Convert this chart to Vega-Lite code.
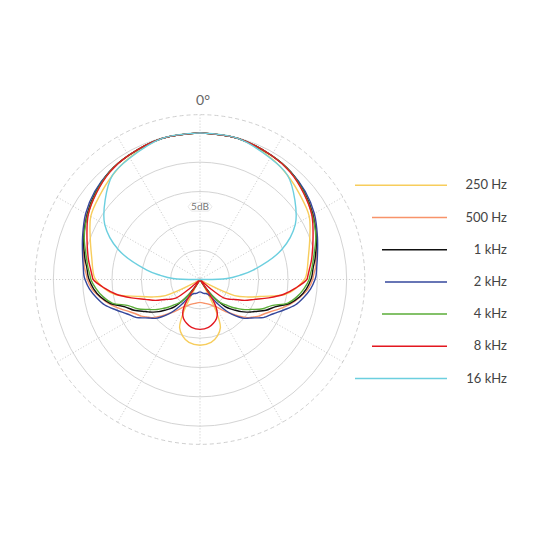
{
  "$schema": "https://vega.github.io/schema/vega-lite/v6.json",
  "width": 540,
  "height": 540,
  "autosize": "none",
  "padding": 0,
  "background": "white",
  "config": {"view": {"stroke": null}, "font": "Lato"},
  "datasets": {
    "rings": [{"db": -20}, {"db": -15}, {"db": -10}, {"db": -5}, {"db": 0}],
    "outer": [{"db": 3.1}],
    "spokes": [
      {"a": 0, "db": 3.1}, {"a": 30, "db": 3.1}, {"a": 60, "db": 3.1}, {"a": 90, "db": 3.1},
      {"a": 120, "db": 3.1}, {"a": 150, "db": 3.1}, {"a": 180, "db": 3.1}, {"a": 210, "db": 3.1},
      {"a": 240, "db": 3.1}, {"a": 270, "db": 3.1}, {"a": 300, "db": 3.1}, {"a": 330, "db": 3.1}
    ],
    "angle": [{"text": "0°", "a": 0, "db": 5.4}],
    "step": [{"text": "5dB", "a": 0, "db": -12.6}],
    "pattern": [
      {"a": 0, "250 Hz": 0, "500 Hz": 0, "1 kHz": 0, "2 kHz": 0, "4 kHz": 0, "8 kHz": 0, "16 kHz": 0},
      {"a": 15, "250 Hz": -0.1, "500 Hz": -0.1, "1 kHz": -0.1, "2 kHz": -0.1, "4 kHz": -0.1, "8 kHz": -0.1, "16 kHz": -0.1},
      {"a": 30, "250 Hz": -1.0, "500 Hz": -0.6, "1 kHz": -0.6, "2 kHz": -0.6, "4 kHz": -0.6, "8 kHz": -0.6, "16 kHz": -1.1},
      {"a": 40, "250 Hz": -1.8, "500 Hz": -1.0, "1 kHz": -1.0, "2 kHz": -1.0, "4 kHz": -1.05, "8 kHz": -1.1, "16 kHz": -1.8},
      {"a": 50, "250 Hz": -2.7, "500 Hz": -1.8, "1 kHz": -1.8, "2 kHz": -1.6, "4 kHz": -1.9, "8 kHz": -2.0, "16 kHz": -3.9},
      {"a": 60, "250 Hz": -3.5, "500 Hz": -2.7, "1 kHz": -2.8, "2 kHz": -2.5, "4 kHz": -2.9, "8 kHz": -3.0, "16 kHz": -6.25},
      {"a": 70, "250 Hz": -5.1, "500 Hz": -3.8, "1 kHz": -3.9, "2 kHz": -3.7, "4 kHz": -4.0, "8 kHz": -4.5, "16 kHz": -10.2},
      {"a": 80, "250 Hz": -6.3, "500 Hz": -4.9, "1 kHz": -5.1, "2 kHz": -4.7, "4 kHz": -5.4, "8 kHz": -5.7, "16 kHz": -15.8},
      {"a": 84, "250 Hz": -6.6, "500 Hz": -5.2, "1 kHz": -5.6, "2 kHz": -5.0, "4 kHz": -5.8, "8 kHz": -6.2, "16 kHz": -18.2},
      {"a": 88, "250 Hz": -6.9, "500 Hz": -5.65, "1 kHz": -5.9, "2 kHz": -5.2, "4 kHz": -6.25, "8 kHz": -6.6, "16 kHz": -20.4},
      {"a": 90, "250 Hz": -7.2, "500 Hz": -5.8, "1 kHz": -6.1, "2 kHz": -5.4, "4 kHz": -6.4, "8 kHz": -6.8, "16 kHz": -25},
      {"a": 95, "250 Hz": -8.5, "500 Hz": -6.5, "1 kHz": -6.8, "2 kHz": -6.1, "4 kHz": -7.2, "8 kHz": -8.6, "16 kHz": -25},
      {"a": 100, "250 Hz": -10.3, "500 Hz": -7.7, "1 kHz": -7.8, "2 kHz": -7.1, "4 kHz": -8.2, "8 kHz": -10.5, "16 kHz": -25},
      {"a": 105, "250 Hz": -13.9, "500 Hz": -9.0, "1 kHz": -9.2, "2 kHz": -8.2, "4 kHz": -9.5, "8 kHz": -12.9, "16 kHz": -25},
      {"a": 110, "250 Hz": -16.3, "500 Hz": -10.5, "1 kHz": -11.4, "2 kHz": -9.8, "4 kHz": -12.0, "8 kHz": -15.1, "16 kHz": -25},
      {"a": 115, "250 Hz": -18.5, "500 Hz": -11.9, "1 kHz": -12.6, "2 kHz": -11.2, "4 kHz": -13.2, "8 kHz": -16.6, "16 kHz": -25},
      {"a": 120, "250 Hz": -23.3, "500 Hz": -12.9, "1 kHz": -14.1, "2 kHz": -12.2, "4 kHz": -14.8, "8 kHz": -18.2, "16 kHz": -25},
      {"a": 122, "250 Hz": -25, "500 Hz": -13.2, "1 kHz": -14.6, "2 kHz": -12.7, "4 kHz": -15.3, "8 kHz": -18.6, "16 kHz": -25},
      {"a": 125, "250 Hz": -25, "500 Hz": -13.9, "1 kHz": -15.3, "2 kHz": -13.6, "4 kHz": -16.1, "8 kHz": -19.2, "16 kHz": -25},
      {"a": 128, "250 Hz": -25, "500 Hz": -14.4, "1 kHz": -16.1, "2 kHz": -14.3, "4 kHz": -17.0, "8 kHz": -19.9, "16 kHz": -25},
      {"a": 131, "250 Hz": -25, "500 Hz": -15.3, "1 kHz": -17.0, "2 kHz": -14.9, "4 kHz": -17.8, "8 kHz": -22.4, "16 kHz": -25},
      {"a": 134, "250 Hz": -25, "500 Hz": -16.1, "1 kHz": -17.8, "2 kHz": -15.8, "4 kHz": -18.7, "8 kHz": -25, "16 kHz": -25},
      {"a": 137, "250 Hz": -25, "500 Hz": -17.0, "1 kHz": -18.7, "2 kHz": -16.8, "4 kHz": -19.4, "8 kHz": -25, "16 kHz": -25},
      {"a": 140, "250 Hz": -25, "500 Hz": -17.7, "1 kHz": -20.1, "2 kHz": -18.0, "4 kHz": -20.2, "8 kHz": -25, "16 kHz": -25},
      {"a": 143, "250 Hz": -25, "500 Hz": -18.4, "1 kHz": -21.6, "2 kHz": -19.4, "4 kHz": -21.4, "8 kHz": -25, "16 kHz": -25},
      {"a": 146, "250 Hz": -25, "500 Hz": -19.0, "1 kHz": -23.3, "2 kHz": -20.9, "4 kHz": -22.6, "8 kHz": -23.6, "16 kHz": -25},
      {"a": 148, "250 Hz": -25, "500 Hz": -19.4, "1 kHz": -25, "2 kHz": -21.6, "4 kHz": -23.6, "8 kHz": -20.7, "16 kHz": -25},
      {"a": 150, "250 Hz": -23.3, "500 Hz": -19.7, "1 kHz": -25, "2 kHz": -21.9, "4 kHz": -25, "8 kHz": -19.5, "16 kHz": -25},
      {"a": 153, "250 Hz": -19.0, "500 Hz": -19.9, "1 kHz": -25, "2 kHz": -22.2, "4 kHz": -25, "8 kHz": -18.5, "16 kHz": -25},
      {"a": 157, "250 Hz": -16.1, "500 Hz": -20.3, "1 kHz": -25, "2 kHz": -22.4, "4 kHz": -25, "8 kHz": -17.8, "16 kHz": -25},
      {"a": 163, "250 Hz": -14.9, "500 Hz": -20.65, "1 kHz": -25, "2 kHz": -22.5, "4 kHz": -25, "8 kHz": -17.2, "16 kHz": -25},
      {"a": 170, "250 Hz": -14.1, "500 Hz": -20.9, "1 kHz": -25, "2 kHz": -22.7, "4 kHz": -25, "8 kHz": -16.7, "16 kHz": -25},
      {"a": 180, "250 Hz": -13.8, "500 Hz": -21.1, "1 kHz": -25, "2 kHz": -22.9, "4 kHz": -25, "8 kHz": -16.5, "16 kHz": -25},
      {"a": 190, "250 Hz": -14.1, "500 Hz": -20.9, "1 kHz": -25, "2 kHz": -22.7, "4 kHz": -25, "8 kHz": -16.7, "16 kHz": -25},
      {"a": 197, "250 Hz": -14.9, "500 Hz": -20.65, "1 kHz": -25, "2 kHz": -22.5, "4 kHz": -25, "8 kHz": -17.2, "16 kHz": -25},
      {"a": 203, "250 Hz": -16.1, "500 Hz": -20.3, "1 kHz": -25, "2 kHz": -22.4, "4 kHz": -25, "8 kHz": -17.8, "16 kHz": -25},
      {"a": 207, "250 Hz": -19.0, "500 Hz": -19.9, "1 kHz": -25, "2 kHz": -22.2, "4 kHz": -25, "8 kHz": -18.5, "16 kHz": -25},
      {"a": 210, "250 Hz": -23.3, "500 Hz": -19.7, "1 kHz": -25, "2 kHz": -21.9, "4 kHz": -25, "8 kHz": -19.5, "16 kHz": -25},
      {"a": 212, "250 Hz": -25, "500 Hz": -19.4, "1 kHz": -25, "2 kHz": -21.6, "4 kHz": -23.6, "8 kHz": -20.7, "16 kHz": -25},
      {"a": 214, "250 Hz": -25, "500 Hz": -19.0, "1 kHz": -23.3, "2 kHz": -20.9, "4 kHz": -22.6, "8 kHz": -23.6, "16 kHz": -25},
      {"a": 217, "250 Hz": -25, "500 Hz": -18.4, "1 kHz": -21.6, "2 kHz": -19.4, "4 kHz": -21.4, "8 kHz": -25, "16 kHz": -25},
      {"a": 220, "250 Hz": -25, "500 Hz": -17.7, "1 kHz": -20.1, "2 kHz": -18.0, "4 kHz": -20.2, "8 kHz": -25, "16 kHz": -25},
      {"a": 223, "250 Hz": -25, "500 Hz": -17.0, "1 kHz": -18.7, "2 kHz": -16.8, "4 kHz": -19.4, "8 kHz": -25, "16 kHz": -25},
      {"a": 226, "250 Hz": -25, "500 Hz": -16.1, "1 kHz": -17.8, "2 kHz": -15.8, "4 kHz": -18.7, "8 kHz": -25, "16 kHz": -25},
      {"a": 229, "250 Hz": -25, "500 Hz": -15.3, "1 kHz": -17.0, "2 kHz": -14.9, "4 kHz": -17.8, "8 kHz": -22.4, "16 kHz": -25},
      {"a": 232, "250 Hz": -25, "500 Hz": -14.4, "1 kHz": -16.1, "2 kHz": -14.3, "4 kHz": -17.0, "8 kHz": -19.9, "16 kHz": -25},
      {"a": 235, "250 Hz": -25, "500 Hz": -13.9, "1 kHz": -15.3, "2 kHz": -13.6, "4 kHz": -16.1, "8 kHz": -19.2, "16 kHz": -25},
      {"a": 238, "250 Hz": -25, "500 Hz": -13.2, "1 kHz": -14.6, "2 kHz": -12.7, "4 kHz": -15.3, "8 kHz": -18.6, "16 kHz": -25},
      {"a": 240, "250 Hz": -23.3, "500 Hz": -12.9, "1 kHz": -14.1, "2 kHz": -12.2, "4 kHz": -14.8, "8 kHz": -18.2, "16 kHz": -25},
      {"a": 245, "250 Hz": -18.5, "500 Hz": -11.9, "1 kHz": -12.6, "2 kHz": -11.2, "4 kHz": -13.2, "8 kHz": -16.6, "16 kHz": -25},
      {"a": 250, "250 Hz": -16.3, "500 Hz": -10.5, "1 kHz": -11.4, "2 kHz": -9.8, "4 kHz": -12.0, "8 kHz": -15.1, "16 kHz": -25},
      {"a": 255, "250 Hz": -13.9, "500 Hz": -9.0, "1 kHz": -9.2, "2 kHz": -8.2, "4 kHz": -9.5, "8 kHz": -12.9, "16 kHz": -25},
      {"a": 260, "250 Hz": -10.3, "500 Hz": -7.7, "1 kHz": -7.8, "2 kHz": -7.1, "4 kHz": -8.2, "8 kHz": -10.5, "16 kHz": -25},
      {"a": 265, "250 Hz": -8.5, "500 Hz": -6.5, "1 kHz": -6.8, "2 kHz": -6.1, "4 kHz": -7.2, "8 kHz": -8.6, "16 kHz": -25},
      {"a": 270, "250 Hz": -7.2, "500 Hz": -5.8, "1 kHz": -6.1, "2 kHz": -5.4, "4 kHz": -6.4, "8 kHz": -6.8, "16 kHz": -25},
      {"a": 272, "250 Hz": -6.9, "500 Hz": -5.65, "1 kHz": -5.9, "2 kHz": -5.2, "4 kHz": -6.25, "8 kHz": -6.6, "16 kHz": -20.4},
      {"a": 276, "250 Hz": -6.6, "500 Hz": -5.2, "1 kHz": -5.6, "2 kHz": -5.0, "4 kHz": -5.8, "8 kHz": -6.2, "16 kHz": -18.2},
      {"a": 280, "250 Hz": -6.3, "500 Hz": -4.9, "1 kHz": -5.1, "2 kHz": -4.7, "4 kHz": -5.4, "8 kHz": -5.7, "16 kHz": -15.8},
      {"a": 290, "250 Hz": -5.1, "500 Hz": -3.8, "1 kHz": -3.9, "2 kHz": -3.7, "4 kHz": -4.0, "8 kHz": -4.5, "16 kHz": -10.2},
      {"a": 300, "250 Hz": -3.5, "500 Hz": -2.7, "1 kHz": -2.8, "2 kHz": -2.5, "4 kHz": -2.9, "8 kHz": -3.0, "16 kHz": -6.25},
      {"a": 310, "250 Hz": -2.7, "500 Hz": -1.8, "1 kHz": -1.8, "2 kHz": -1.6, "4 kHz": -1.9, "8 kHz": -2.0, "16 kHz": -3.9},
      {"a": 320, "250 Hz": -1.8, "500 Hz": -1.0, "1 kHz": -1.0, "2 kHz": -1.0, "4 kHz": -1.05, "8 kHz": -1.1, "16 kHz": -1.8},
      {"a": 330, "250 Hz": -1.0, "500 Hz": -0.6, "1 kHz": -0.6, "2 kHz": -0.6, "4 kHz": -0.6, "8 kHz": -0.6, "16 kHz": -1.1},
      {"a": 345, "250 Hz": -0.1, "500 Hz": -0.1, "1 kHz": -0.1, "2 kHz": -0.1, "4 kHz": -0.1, "8 kHz": -0.1, "16 kHz": -0.1},
      {"a": 360, "250 Hz": 0, "500 Hz": 0, "1 kHz": 0, "2 kHz": 0, "4 kHz": 0, "8 kHz": 0, "16 kHz": 0}
    ]
  },
  "layer": [
    {
      "data": {"name": "rings"},
      "transform": [{"calculate": "datum.db + 25", "as": "R"}],
      "mark": {"type": "point", "shape": "circle", "filled": false, "color": "#d4d4d4", "strokeWidth": 1, "opacity": 1},
      "encoding": {
        "x": {"datum": 0, "type": "quantitative", "scale": {"domain": [-34.09, 57.95], "nice": false, "zero": false}, "axis": null},
        "y": {"datum": 0, "type": "quantitative", "scale": {"domain": [-44.4, 47.64], "nice": false, "zero": false}, "axis": null},
        "size": {"field": "R", "type": "quantitative", "scale": {"type": "pow", "exponent": 2, "domain": [0, 30], "range": [0, 123904]}, "legend": null}
      }
    },
    {
      "data": {"name": "outer"},
      "transform": [{"calculate": "datum.db + 25", "as": "R"}],
      "mark": {"type": "point", "shape": "circle", "filled": false, "color": "#cfcfcf", "strokeWidth": 1, "strokeDash": [4, 3], "opacity": 1},
      "encoding": {
        "x": {"datum": 0, "type": "quantitative"},
        "y": {"datum": 0, "type": "quantitative"},
        "size": {"field": "R", "type": "quantitative", "legend": null}
      }
    },
    {
      "data": {"name": "spokes"},
      "transform": [
        {"calculate": "(datum.db + 25) * sin(datum.a * PI / 180)", "as": "x"},
        {"calculate": "(datum.db + 25) * cos(datum.a * PI / 180)", "as": "y"}
      ],
      "mark": {"type": "rule", "color": "#c8c8c8", "strokeWidth": 1, "strokeDash": [1, 2]},
      "encoding": {
        "x": {"field": "x", "type": "quantitative"},
        "y": {"field": "y", "type": "quantitative"},
        "x2": {"datum": 0},
        "y2": {"datum": 0}
      }
    },
    {
      "data": {"name": "step"},
      "transform": [
        {"calculate": "(datum.db + 25) * sin(datum.a * PI / 180)", "as": "x"},
        {"calculate": "(datum.db + 25) * cos(datum.a * PI / 180)", "as": "y"}
      ],
      "mark": {"type": "point", "shape": "M-1,0L-0.72,-0.36L0.72,-0.36L1,0L0.72,0.36L-0.72,0.36Z", "filled": true, "fill": "white", "stroke": "#e2e2e2", "strokeWidth": 0.8, "size": 576, "opacity": 1},
      "encoding": {
        "x": {"field": "x", "type": "quantitative"},
        "y": {"field": "y", "type": "quantitative"}
      }
    },
    {
      "data": {"name": "step"},
      "transform": [
        {"calculate": "(datum.db + 25) * sin(datum.a * PI / 180)", "as": "x"},
        {"calculate": "(datum.db + 25) * cos(datum.a * PI / 180)", "as": "y"}
      ],
      "mark": {"type": "text", "fontSize": 10, "color": "#777777", "align": "center", "baseline": "middle", "font": "Lato"},
      "encoding": {
        "x": {"field": "x", "type": "quantitative"},
        "y": {"field": "y", "type": "quantitative"},
        "text": {"field": "text"}
      }
    },
    {
      "data": {"name": "pattern"},
      "transform": [
        {"fold": ["250 Hz", "500 Hz", "1 kHz", "2 kHz", "4 kHz", "8 kHz", "16 kHz"], "as": ["freq", "db"]},
        {"calculate": "max(0, datum.db + 25)", "as": "R"},
        {"calculate": "datum.R * sin(datum.a * PI / 180)", "as": "x"},
        {"calculate": "datum.R * cos(datum.a * PI / 180)", "as": "y"}
      ],
      "mark": {"type": "line", "strokeWidth": 1.4, "strokeJoin": "round", "interpolate": "catmull-rom"},
      "encoding": {
        "x": {"field": "x", "type": "quantitative"},
        "y": {"field": "y", "type": "quantitative"},
        "order": {"field": "a", "type": "quantitative"},
        "color": {
          "field": "freq",
          "type": "nominal",
          "scale": {
            "domain": ["250 Hz", "500 Hz", "1 kHz", "2 kHz", "4 kHz", "8 kHz", "16 kHz"],
            "range": ["#f7cd5c", "#f8936a", "#111111", "#34479c", "#5aac37", "#e3171f", "#6ccfdf"]
          },
          "legend": {
            "title": null,
            "orient": "none",
            "legendX": 354,
            "legendY": 177.3,
            "direction": "vertical",
            "symbolType": "stroke",
            "symbolSize": 8464,
            "symbolStrokeWidth": 1.5,
            "clipHeight": 16,
            "rowPadding": 16.2,
            "labelFont": "Lato",
            "labelFontSize": 13,
            "labelColor": "#444444",
            "labelAlign": "right",
            "labelOffset": 59,
            "encode": {
              "symbols": {
                "update": {
                  "size": {"signal": "indexof(['250 Hz', '16 kHz'], datum.value) >= 0 ? 8464 : indexof(['500 Hz', '8 kHz'], datum.value) >= 0 ? 5625 : datum.value == '2 kHz' ? 3844 : 4225"},
                  "x": {"signal": "indexof(['250 Hz', '16 kHz'], datum.value) >= 0 ? 47 : indexof(['500 Hz', '8 kHz'], datum.value) >= 0 ? 55.5 : datum.value == '2 kHz' ? 62 : 60.5"}
                }
              },
              "labels": {
                "update": {
                  "x": {"value": 153}
                }
              }
            }
          }
        }
      }
    },
    {
      "data": {"name": "angle"},
      "transform": [
        {"calculate": "(datum.db + 25) * sin(datum.a * PI / 180)", "as": "x"},
        {"calculate": "(datum.db + 25) * cos(datum.a * PI / 180)", "as": "y"}
      ],
      "mark": {"type": "text", "fontSize": 14, "color": "#666666", "align": "center", "baseline": "middle", "dx": 3, "font": "Lato"},
      "encoding": {
        "x": {"field": "x", "type": "quantitative"},
        "y": {"field": "y", "type": "quantitative"},
        "text": {"field": "text"}
      }
    }
  ]
}
